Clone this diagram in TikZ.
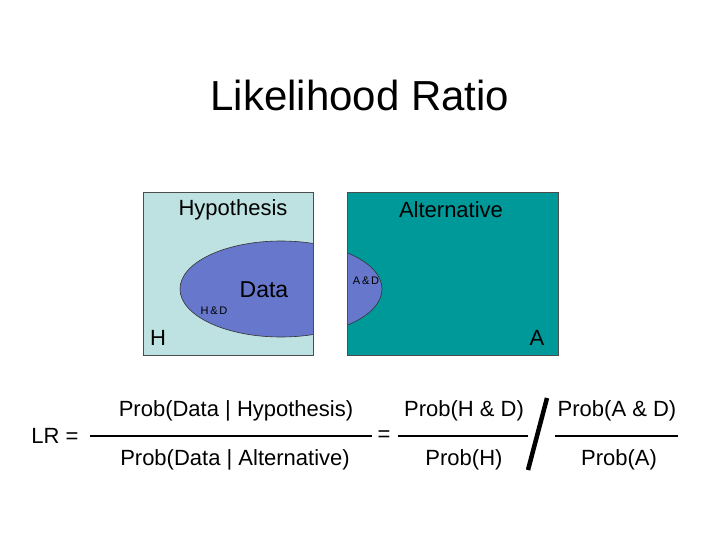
\documentclass[tikz,border=0pt]{standalone}
\usepackage{fontspec}
\setmainfont{Liberation Sans}
\begin{document}
\begin{tikzpicture}[x=1pt,y=-1pt,
  lab/.style={inner sep=0pt,font=\fontsize{22}{26}\selectfont},
  small/.style={inner sep=0pt,font=\fontsize{11}{13}\selectfont},
  fracline/.style={line width=1.2pt}]
\definecolor{lightc}{RGB}{190,226,226}
\definecolor{tealc}{RGB}{0,153,153}
\definecolor{blueE}{RGB}{102,119,204}
\useasboundingbox (0,0) rectangle (720,540);
\node[inner sep=0pt,font=\fontsize{42}{50}\selectfont] (title) at (360,95) {Likelihood Ratio};
\fill[lightc] (143,192) rectangle (313,355);
\fill[tealc] (347,192) rectangle (558,355);
\begin{scope}
\clip (143,192) rectangle (313,355) (347,192) rectangle (558,355);
\filldraw[fill=blueE,draw=black!80,line width=0.6pt] (281,289) ellipse [x radius=101,y radius=48];
\end{scope}
\draw[black!70,line width=0.6pt] (143,192) rectangle (313,355);
\draw[black!70,line width=0.6pt] (347,192) rectangle (558,355);
\node[lab] (hyp) at (233,210) {Hypothesis};
\node[lab] (alt) at (451,210) {Alternative};
\node[lab,font=\fontsize{23}{26}\selectfont] (data) at (264,290) {Data};
\node[small] (hd) at (214,311) {H\,\&\,D};
\node[small] (ad) at (366,281) {A\,\&\,D};
\node[lab] (h) at (158,338) {H};
\node[lab] (a) at (537,338) {A};
% formula
\node[lab] (lr) at (55,436) {LR =};
\node[lab] (n1) at (236,411) {Prob(Data | Hypothesis)};
\node[lab] (d1) at (235,460) {Prob(Data | Alternative)};
\node[lab] (eq) at (384,436) {=};
\node[lab] (n2) at (464,411) {Prob(H \& D)};
\node[lab] (d2) at (464,460) {Prob(H)};
\node[lab] (n3) at (617,411) {Prob(A \& D)};
\node[lab] (d3) at (619,460) {Prob(A)};
\coordinate (l1a) at (90,436); \coordinate (l1b) at (372,436);
\coordinate (l2a) at (398,436); \coordinate (l2b) at (528,436);
\coordinate (l3a) at (555,436); \coordinate (l3b) at (678,436);
\draw[fracline] (l1a) -- (l1b);
\draw[fracline] (l2a) -- (l2b);
\draw[fracline] (l3a) -- (l3b);
\coordinate (s1) at (528,470); \coordinate (s2) at (547,398);
\draw[line width=4.5pt] (s1) -- (s2);
\end{tikzpicture}
\end{document}
